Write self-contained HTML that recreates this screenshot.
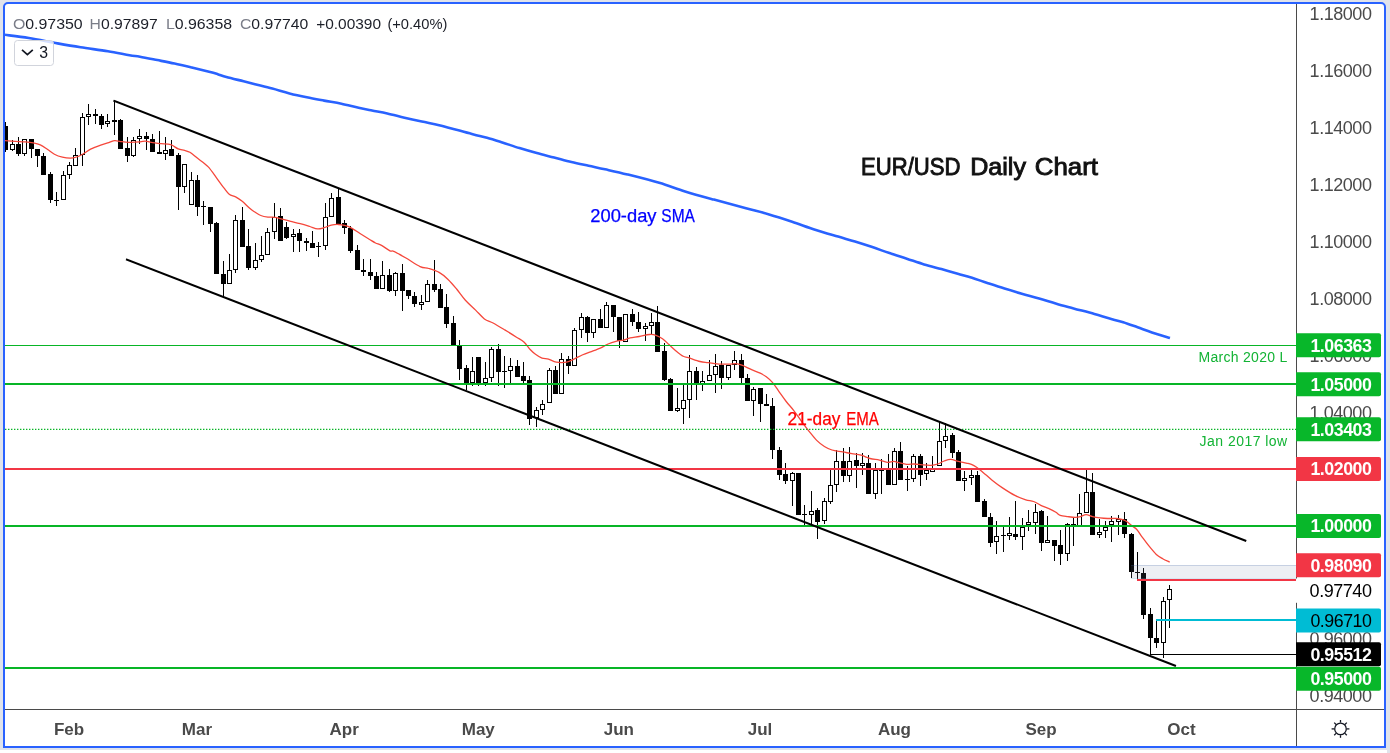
<!DOCTYPE html>
<html><head><meta charset="utf-8"><style>
html,body{margin:0;padding:0;}
body{width:1390px;height:753px;background:#e0e3eb;position:relative;overflow:hidden;font-family:"Liberation Sans",sans-serif;}
.strip{position:absolute;left:0;top:750px;width:1387px;height:3px;background:#fff;}
.frame{position:absolute;left:3px;top:2px;width:1379px;height:742px;border:2px solid #2962ff;border-radius:5px 5px 0 0;background:#fff;}
</style></head><body>
<div class="strip"></div>
<div class="frame"></div>
<svg width="1390" height="753" style="position:absolute;left:0;top:0;will-change:transform">
<defs><clipPath id="pane"><rect x="5" y="4" width="1291" height="705"/></clipPath></defs>
<g clip-path="url(#pane)">
<g fill="#000">
<rect x="5" y="122" width="1" height="30"/>
<rect x="3" y="126" width="5" height="24"/>
<rect x="12" y="140" width="1" height="11"/>
<rect x="10" y="144" width="5" height="6"/>
<rect x="11" y="145" width="3" height="4" fill="#fff"/>
<rect x="18" y="137" width="1" height="19"/>
<rect x="16" y="144" width="5" height="10"/>
<rect x="24" y="139" width="1" height="17"/>
<rect x="22" y="139" width="5" height="15"/>
<rect x="23" y="140" width="3" height="13" fill="#fff"/>
<rect x="31" y="139" width="1" height="19"/>
<rect x="29" y="139" width="5" height="10"/>
<rect x="37" y="149" width="1" height="18"/>
<rect x="35" y="149" width="5" height="7"/>
<rect x="43" y="153" width="1" height="22"/>
<rect x="41" y="156" width="5" height="19"/>
<rect x="50" y="172" width="1" height="31"/>
<rect x="48" y="174" width="5" height="26"/>
<rect x="56" y="192" width="1" height="14"/>
<rect x="54" y="200" width="5" height="1"/>
<rect x="63" y="171" width="1" height="29"/>
<rect x="61" y="175" width="5" height="25"/>
<rect x="62" y="176" width="3" height="23" fill="#fff"/>
<rect x="69" y="162" width="1" height="17"/>
<rect x="67" y="165" width="5" height="10"/>
<rect x="68" y="166" width="3" height="8" fill="#fff"/>
<rect x="75" y="148" width="1" height="18"/>
<rect x="73" y="155" width="5" height="11"/>
<rect x="74" y="156" width="3" height="9" fill="#fff"/>
<rect x="82" y="113" width="1" height="53"/>
<rect x="80" y="117" width="5" height="38"/>
<rect x="81" y="118" width="3" height="36" fill="#fff"/>
<rect x="88" y="104" width="1" height="21"/>
<rect x="86" y="114" width="5" height="3"/>
<rect x="87" y="115" width="3" height="1" fill="#fff"/>
<rect x="95" y="109" width="1" height="15"/>
<rect x="93" y="114" width="5" height="2"/>
<rect x="101" y="114" width="1" height="15"/>
<rect x="99" y="116" width="5" height="9"/>
<rect x="107" y="114" width="1" height="13"/>
<rect x="105" y="121" width="5" height="3"/>
<rect x="106" y="122" width="3" height="1" fill="#fff"/>
<rect x="114" y="100" width="1" height="35"/>
<rect x="112" y="120" width="5" height="2"/>
<rect x="120" y="119" width="1" height="30"/>
<rect x="118" y="120" width="5" height="29"/>
<rect x="127" y="137" width="1" height="25"/>
<rect x="125" y="148" width="5" height="8"/>
<rect x="133" y="137" width="1" height="20"/>
<rect x="131" y="140" width="5" height="16"/>
<rect x="132" y="141" width="3" height="14" fill="#fff"/>
<rect x="139" y="129" width="1" height="15"/>
<rect x="137" y="136" width="5" height="3"/>
<rect x="138" y="137" width="3" height="1" fill="#fff"/>
<rect x="146" y="132" width="1" height="18"/>
<rect x="144" y="136" width="5" height="3"/>
<rect x="152" y="134" width="1" height="18"/>
<rect x="150" y="139" width="5" height="13"/>
<rect x="159" y="131" width="1" height="23"/>
<rect x="157" y="152" width="5" height="2"/>
<rect x="165" y="137" width="1" height="23"/>
<rect x="163" y="150" width="5" height="4"/>
<rect x="164" y="151" width="3" height="2" fill="#fff"/>
<rect x="171" y="140" width="1" height="16"/>
<rect x="169" y="149" width="5" height="7"/>
<rect x="178" y="153" width="1" height="57"/>
<rect x="176" y="155" width="5" height="32"/>
<rect x="184" y="164" width="1" height="29"/>
<rect x="182" y="164" width="5" height="23"/>
<rect x="183" y="165" width="3" height="21" fill="#fff"/>
<rect x="191" y="172" width="1" height="33"/>
<rect x="189" y="180" width="5" height="25"/>
<rect x="190" y="181" width="3" height="23" fill="#fff"/>
<rect x="197" y="175" width="1" height="41"/>
<rect x="195" y="180" width="5" height="27"/>
<rect x="203" y="201" width="1" height="24"/>
<rect x="201" y="206" width="5" height="1"/>
<rect x="210" y="207" width="1" height="25"/>
<rect x="208" y="207" width="5" height="17"/>
<rect x="216" y="222" width="1" height="52"/>
<rect x="214" y="223" width="5" height="51"/>
<rect x="223" y="261" width="1" height="35"/>
<rect x="221" y="274" width="5" height="10"/>
<rect x="229" y="254" width="1" height="30"/>
<rect x="227" y="270" width="5" height="14"/>
<rect x="228" y="271" width="3" height="12" fill="#fff"/>
<rect x="235" y="215" width="1" height="58"/>
<rect x="233" y="220" width="5" height="50"/>
<rect x="234" y="221" width="3" height="48" fill="#fff"/>
<rect x="242" y="207" width="1" height="40"/>
<rect x="240" y="220" width="5" height="27"/>
<rect x="248" y="229" width="1" height="41"/>
<rect x="246" y="246" width="5" height="22"/>
<rect x="255" y="243" width="1" height="27"/>
<rect x="253" y="260" width="5" height="8"/>
<rect x="254" y="261" width="3" height="6" fill="#fff"/>
<rect x="261" y="236" width="1" height="26"/>
<rect x="259" y="255" width="5" height="5"/>
<rect x="260" y="256" width="3" height="3" fill="#fff"/>
<rect x="267" y="228" width="1" height="27"/>
<rect x="265" y="232" width="5" height="23"/>
<rect x="266" y="233" width="3" height="21" fill="#fff"/>
<rect x="274" y="203" width="1" height="36"/>
<rect x="272" y="217" width="5" height="15"/>
<rect x="273" y="218" width="3" height="13" fill="#fff"/>
<rect x="280" y="208" width="1" height="33"/>
<rect x="278" y="216" width="5" height="25"/>
<rect x="286" y="222" width="1" height="17"/>
<rect x="284" y="227" width="5" height="11"/>
<rect x="293" y="229" width="1" height="23"/>
<rect x="291" y="234" width="5" height="3"/>
<rect x="292" y="235" width="3" height="1" fill="#fff"/>
<rect x="299" y="229" width="1" height="23"/>
<rect x="297" y="233" width="5" height="8"/>
<rect x="306" y="238" width="1" height="13"/>
<rect x="304" y="241" width="5" height="2"/>
<rect x="312" y="231" width="1" height="17"/>
<rect x="310" y="243" width="5" height="5"/>
<rect x="318" y="242" width="1" height="15"/>
<rect x="316" y="246" width="5" height="1"/>
<rect x="325" y="203" width="1" height="47"/>
<rect x="323" y="217" width="5" height="29"/>
<rect x="324" y="218" width="3" height="27" fill="#fff"/>
<rect x="331" y="193" width="1" height="24"/>
<rect x="329" y="198" width="5" height="19"/>
<rect x="330" y="199" width="3" height="17" fill="#fff"/>
<rect x="338" y="189" width="1" height="35"/>
<rect x="336" y="197" width="5" height="27"/>
<rect x="344" y="220" width="1" height="14"/>
<rect x="342" y="223" width="5" height="5"/>
<rect x="350" y="226" width="1" height="27"/>
<rect x="348" y="228" width="5" height="23"/>
<rect x="357" y="245" width="1" height="25"/>
<rect x="355" y="250" width="5" height="20"/>
<rect x="363" y="259" width="1" height="17"/>
<rect x="361" y="270" width="5" height="2"/>
<rect x="370" y="259" width="1" height="21"/>
<rect x="368" y="272" width="5" height="4"/>
<rect x="376" y="272" width="1" height="17"/>
<rect x="374" y="276" width="5" height="13"/>
<rect x="382" y="261" width="1" height="28"/>
<rect x="380" y="275" width="5" height="14"/>
<rect x="381" y="276" width="3" height="12" fill="#fff"/>
<rect x="389" y="269" width="1" height="23"/>
<rect x="387" y="275" width="5" height="16"/>
<rect x="395" y="272" width="1" height="24"/>
<rect x="393" y="273" width="5" height="18"/>
<rect x="394" y="274" width="3" height="16" fill="#fff"/>
<rect x="402" y="264" width="1" height="47"/>
<rect x="400" y="273" width="5" height="18"/>
<rect x="408" y="290" width="1" height="9"/>
<rect x="406" y="290" width="5" height="6"/>
<rect x="414" y="292" width="1" height="15"/>
<rect x="412" y="296" width="5" height="8"/>
<rect x="421" y="295" width="1" height="15"/>
<rect x="419" y="302" width="5" height="3"/>
<rect x="420" y="303" width="3" height="1" fill="#fff"/>
<rect x="427" y="280" width="1" height="22"/>
<rect x="425" y="284" width="5" height="18"/>
<rect x="426" y="285" width="3" height="16" fill="#fff"/>
<rect x="434" y="260" width="1" height="32"/>
<rect x="432" y="284" width="5" height="6"/>
<rect x="440" y="284" width="1" height="24"/>
<rect x="438" y="289" width="5" height="19"/>
<rect x="446" y="294" width="1" height="34"/>
<rect x="444" y="307" width="5" height="17"/>
<rect x="453" y="316" width="1" height="29"/>
<rect x="451" y="323" width="5" height="22"/>
<rect x="459" y="340" width="1" height="40"/>
<rect x="457" y="345" width="5" height="24"/>
<rect x="466" y="365" width="1" height="25"/>
<rect x="464" y="368" width="5" height="15"/>
<rect x="472" y="357" width="1" height="29"/>
<rect x="470" y="371" width="5" height="12"/>
<rect x="471" y="372" width="3" height="10" fill="#fff"/>
<rect x="478" y="357" width="1" height="29"/>
<rect x="476" y="357" width="5" height="26"/>
<rect x="485" y="362" width="1" height="24"/>
<rect x="483" y="378" width="5" height="5"/>
<rect x="484" y="379" width="3" height="3" fill="#fff"/>
<rect x="491" y="347" width="1" height="35"/>
<rect x="489" y="349" width="5" height="29"/>
<rect x="490" y="350" width="3" height="27" fill="#fff"/>
<rect x="498" y="344" width="1" height="42"/>
<rect x="496" y="349" width="5" height="23"/>
<rect x="504" y="356" width="1" height="32"/>
<rect x="502" y="371" width="5" height="1"/>
<rect x="510" y="358" width="1" height="25"/>
<rect x="508" y="366" width="5" height="5"/>
<rect x="509" y="367" width="3" height="3" fill="#fff"/>
<rect x="517" y="360" width="1" height="17"/>
<rect x="515" y="366" width="5" height="11"/>
<rect x="523" y="362" width="1" height="21"/>
<rect x="521" y="376" width="5" height="5"/>
<rect x="529" y="376" width="1" height="49"/>
<rect x="527" y="380" width="5" height="39"/>
<rect x="536" y="407" width="1" height="20"/>
<rect x="534" y="410" width="5" height="8"/>
<rect x="535" y="411" width="3" height="6" fill="#fff"/>
<rect x="542" y="400" width="1" height="15"/>
<rect x="540" y="404" width="5" height="6"/>
<rect x="541" y="405" width="3" height="4" fill="#fff"/>
<rect x="549" y="368" width="1" height="35"/>
<rect x="547" y="370" width="5" height="33"/>
<rect x="548" y="371" width="3" height="31" fill="#fff"/>
<rect x="555" y="366" width="1" height="28"/>
<rect x="553" y="370" width="5" height="24"/>
<rect x="561" y="353" width="1" height="41"/>
<rect x="559" y="359" width="5" height="35"/>
<rect x="560" y="360" width="3" height="33" fill="#fff"/>
<rect x="568" y="356" width="1" height="18"/>
<rect x="566" y="359" width="5" height="7"/>
<rect x="574" y="328" width="1" height="38"/>
<rect x="572" y="330" width="5" height="36"/>
<rect x="573" y="331" width="3" height="34" fill="#fff"/>
<rect x="581" y="313" width="1" height="25"/>
<rect x="579" y="317" width="5" height="13"/>
<rect x="580" y="318" width="3" height="11" fill="#fff"/>
<rect x="587" y="316" width="1" height="26"/>
<rect x="585" y="317" width="5" height="16"/>
<rect x="593" y="319" width="1" height="19"/>
<rect x="591" y="319" width="5" height="14"/>
<rect x="592" y="320" width="3" height="12" fill="#fff"/>
<rect x="600" y="309" width="1" height="19"/>
<rect x="598" y="319" width="5" height="9"/>
<rect x="606" y="302" width="1" height="26"/>
<rect x="604" y="305" width="5" height="23"/>
<rect x="605" y="306" width="3" height="21" fill="#fff"/>
<rect x="613" y="305" width="1" height="27"/>
<rect x="611" y="305" width="5" height="12"/>
<rect x="619" y="317" width="1" height="31"/>
<rect x="617" y="317" width="5" height="24"/>
<rect x="625" y="314" width="1" height="28"/>
<rect x="623" y="314" width="5" height="28"/>
<rect x="624" y="315" width="3" height="26" fill="#fff"/>
<rect x="632" y="309" width="1" height="17"/>
<rect x="630" y="314" width="5" height="8"/>
<rect x="638" y="312" width="1" height="20"/>
<rect x="636" y="322" width="5" height="7"/>
<rect x="645" y="323" width="1" height="18"/>
<rect x="643" y="326" width="5" height="3"/>
<rect x="644" y="327" width="3" height="1" fill="#fff"/>
<rect x="651" y="313" width="1" height="21"/>
<rect x="649" y="322" width="5" height="4"/>
<rect x="650" y="323" width="3" height="2" fill="#fff"/>
<rect x="657" y="306" width="1" height="46"/>
<rect x="655" y="322" width="5" height="30"/>
<rect x="664" y="343" width="1" height="38"/>
<rect x="662" y="351" width="5" height="29"/>
<rect x="670" y="378" width="1" height="33"/>
<rect x="668" y="379" width="5" height="32"/>
<rect x="677" y="388" width="1" height="24"/>
<rect x="675" y="408" width="5" height="3"/>
<rect x="676" y="409" width="3" height="1" fill="#fff"/>
<rect x="683" y="383" width="1" height="41"/>
<rect x="681" y="400" width="5" height="9"/>
<rect x="682" y="401" width="3" height="7" fill="#fff"/>
<rect x="689" y="355" width="1" height="63"/>
<rect x="687" y="371" width="5" height="29"/>
<rect x="688" y="372" width="3" height="27" fill="#fff"/>
<rect x="696" y="367" width="1" height="33"/>
<rect x="694" y="371" width="5" height="12"/>
<rect x="702" y="371" width="1" height="20"/>
<rect x="700" y="381" width="5" height="3"/>
<rect x="701" y="382" width="3" height="1" fill="#fff"/>
<rect x="709" y="360" width="1" height="21"/>
<rect x="707" y="375" width="5" height="6"/>
<rect x="708" y="376" width="3" height="4" fill="#fff"/>
<rect x="715" y="354" width="1" height="39"/>
<rect x="713" y="366" width="5" height="9"/>
<rect x="714" y="367" width="3" height="7" fill="#fff"/>
<rect x="721" y="361" width="1" height="28"/>
<rect x="719" y="365" width="5" height="13"/>
<rect x="728" y="365" width="1" height="15"/>
<rect x="726" y="365" width="5" height="13"/>
<rect x="727" y="366" width="3" height="11" fill="#fff"/>
<rect x="734" y="351" width="1" height="19"/>
<rect x="732" y="360" width="5" height="5"/>
<rect x="733" y="361" width="3" height="3" fill="#fff"/>
<rect x="741" y="354" width="1" height="29"/>
<rect x="739" y="360" width="5" height="18"/>
<rect x="747" y="374" width="1" height="27"/>
<rect x="745" y="378" width="5" height="23"/>
<rect x="753" y="387" width="1" height="29"/>
<rect x="751" y="389" width="5" height="12"/>
<rect x="752" y="390" width="3" height="10" fill="#fff"/>
<rect x="760" y="388" width="1" height="34"/>
<rect x="758" y="388" width="5" height="16"/>
<rect x="766" y="394" width="1" height="12"/>
<rect x="764" y="404" width="5" height="2"/>
<rect x="772" y="398" width="1" height="61"/>
<rect x="770" y="406" width="5" height="44"/>
<rect x="779" y="447" width="1" height="33"/>
<rect x="777" y="450" width="5" height="25"/>
<rect x="785" y="463" width="1" height="21"/>
<rect x="783" y="474" width="5" height="7"/>
<rect x="792" y="472" width="1" height="34"/>
<rect x="790" y="473" width="5" height="8"/>
<rect x="791" y="474" width="3" height="6" fill="#fff"/>
<rect x="798" y="473" width="1" height="42"/>
<rect x="796" y="473" width="5" height="42"/>
<rect x="804" y="505" width="1" height="20"/>
<rect x="802" y="514" width="5" height="1"/>
<rect x="811" y="491" width="1" height="34"/>
<rect x="809" y="511" width="5" height="4"/>
<rect x="810" y="512" width="3" height="2" fill="#fff"/>
<rect x="817" y="508" width="1" height="31"/>
<rect x="815" y="510" width="5" height="12"/>
<rect x="824" y="498" width="1" height="26"/>
<rect x="822" y="501" width="5" height="20"/>
<rect x="823" y="502" width="3" height="18" fill="#fff"/>
<rect x="830" y="470" width="1" height="34"/>
<rect x="828" y="485" width="5" height="17"/>
<rect x="829" y="486" width="3" height="15" fill="#fff"/>
<rect x="836" y="450" width="1" height="42"/>
<rect x="834" y="461" width="5" height="24"/>
<rect x="835" y="462" width="3" height="22" fill="#fff"/>
<rect x="843" y="448" width="1" height="34"/>
<rect x="841" y="461" width="5" height="15"/>
<rect x="849" y="447" width="1" height="35"/>
<rect x="847" y="461" width="5" height="15"/>
<rect x="848" y="462" width="3" height="13" fill="#fff"/>
<rect x="856" y="453" width="1" height="35"/>
<rect x="854" y="460" width="5" height="6"/>
<rect x="862" y="453" width="1" height="22"/>
<rect x="860" y="463" width="5" height="3"/>
<rect x="861" y="464" width="3" height="1" fill="#fff"/>
<rect x="868" y="455" width="1" height="39"/>
<rect x="866" y="463" width="5" height="31"/>
<rect x="875" y="463" width="1" height="36"/>
<rect x="873" y="470" width="5" height="24"/>
<rect x="874" y="471" width="3" height="22" fill="#fff"/>
<rect x="881" y="459" width="1" height="35"/>
<rect x="879" y="470" width="5" height="1"/>
<rect x="888" y="454" width="1" height="31"/>
<rect x="886" y="470" width="5" height="15"/>
<rect x="894" y="448" width="1" height="37"/>
<rect x="892" y="451" width="5" height="34"/>
<rect x="893" y="452" width="3" height="32" fill="#fff"/>
<rect x="900" y="442" width="1" height="38"/>
<rect x="898" y="451" width="5" height="29"/>
<rect x="907" y="466" width="1" height="25"/>
<rect x="905" y="479" width="5" height="1"/>
<rect x="913" y="454" width="1" height="28"/>
<rect x="911" y="456" width="5" height="23"/>
<rect x="912" y="457" width="3" height="21" fill="#fff"/>
<rect x="920" y="454" width="1" height="32"/>
<rect x="918" y="456" width="5" height="19"/>
<rect x="926" y="463" width="1" height="17"/>
<rect x="924" y="470" width="5" height="4"/>
<rect x="925" y="471" width="3" height="2" fill="#fff"/>
<rect x="932" y="456" width="1" height="16"/>
<rect x="930" y="469" width="5" height="3"/>
<rect x="931" y="470" width="3" height="1" fill="#fff"/>
<rect x="939" y="422" width="1" height="44"/>
<rect x="937" y="441" width="5" height="25"/>
<rect x="938" y="442" width="3" height="23" fill="#fff"/>
<rect x="945" y="423" width="1" height="25"/>
<rect x="943" y="436" width="5" height="5"/>
<rect x="944" y="437" width="3" height="3" fill="#fff"/>
<rect x="952" y="433" width="1" height="25"/>
<rect x="950" y="435" width="5" height="18"/>
<rect x="958" y="450" width="1" height="31"/>
<rect x="956" y="452" width="5" height="29"/>
<rect x="964" y="471" width="1" height="20"/>
<rect x="962" y="478" width="5" height="3"/>
<rect x="963" y="479" width="3" height="1" fill="#fff"/>
<rect x="971" y="470" width="1" height="15"/>
<rect x="969" y="475" width="5" height="3"/>
<rect x="970" y="476" width="3" height="1" fill="#fff"/>
<rect x="977" y="471" width="1" height="31"/>
<rect x="975" y="475" width="5" height="27"/>
<rect x="984" y="499" width="1" height="18"/>
<rect x="982" y="501" width="5" height="16"/>
<rect x="990" y="513" width="1" height="34"/>
<rect x="988" y="517" width="5" height="26"/>
<rect x="996" y="521" width="1" height="33"/>
<rect x="994" y="536" width="5" height="6"/>
<rect x="995" y="537" width="3" height="4" fill="#fff"/>
<rect x="1003" y="527" width="1" height="25"/>
<rect x="1001" y="535" width="5" height="1"/>
<rect x="1009" y="517" width="1" height="23"/>
<rect x="1007" y="533" width="5" height="3"/>
<rect x="1008" y="534" width="3" height="1" fill="#fff"/>
<rect x="1015" y="501" width="1" height="39"/>
<rect x="1013" y="534" width="5" height="3"/>
<rect x="1022" y="518" width="1" height="32"/>
<rect x="1020" y="527" width="5" height="10"/>
<rect x="1021" y="528" width="3" height="8" fill="#fff"/>
<rect x="1028" y="510" width="1" height="21"/>
<rect x="1026" y="522" width="5" height="3"/>
<rect x="1027" y="523" width="3" height="1" fill="#fff"/>
<rect x="1035" y="504" width="1" height="30"/>
<rect x="1033" y="512" width="5" height="11"/>
<rect x="1034" y="513" width="3" height="9" fill="#fff"/>
<rect x="1041" y="510" width="1" height="41"/>
<rect x="1039" y="511" width="5" height="32"/>
<rect x="1047" y="516" width="1" height="26"/>
<rect x="1045" y="540" width="5" height="3"/>
<rect x="1046" y="541" width="3" height="1" fill="#fff"/>
<rect x="1054" y="540" width="1" height="21"/>
<rect x="1052" y="540" width="5" height="6"/>
<rect x="1060" y="530" width="1" height="35"/>
<rect x="1058" y="545" width="5" height="9"/>
<rect x="1067" y="523" width="1" height="38"/>
<rect x="1065" y="524" width="5" height="30"/>
<rect x="1066" y="525" width="3" height="28" fill="#fff"/>
<rect x="1073" y="518" width="1" height="28"/>
<rect x="1071" y="524" width="5" height="3"/>
<rect x="1072" y="525" width="3" height="1" fill="#fff"/>
<rect x="1079" y="494" width="1" height="33"/>
<rect x="1077" y="513" width="5" height="14"/>
<rect x="1078" y="514" width="3" height="12" fill="#fff"/>
<rect x="1086" y="470" width="1" height="43"/>
<rect x="1084" y="492" width="5" height="21"/>
<rect x="1085" y="493" width="3" height="19" fill="#fff"/>
<rect x="1092" y="473" width="1" height="62"/>
<rect x="1090" y="492" width="5" height="43"/>
<rect x="1099" y="519" width="1" height="19"/>
<rect x="1097" y="532" width="5" height="3"/>
<rect x="1098" y="533" width="3" height="1" fill="#fff"/>
<rect x="1105" y="521" width="1" height="17"/>
<rect x="1103" y="527" width="5" height="4"/>
<rect x="1104" y="528" width="3" height="2" fill="#fff"/>
<rect x="1111" y="516" width="1" height="26"/>
<rect x="1109" y="521" width="5" height="4"/>
<rect x="1110" y="522" width="3" height="2" fill="#fff"/>
<rect x="1118" y="515" width="1" height="20"/>
<rect x="1116" y="519" width="5" height="3"/>
<rect x="1117" y="520" width="3" height="1" fill="#fff"/>
<rect x="1124" y="512" width="1" height="26"/>
<rect x="1122" y="519" width="5" height="15"/>
<rect x="1131" y="533" width="1" height="45"/>
<rect x="1129" y="534" width="5" height="38"/>
<rect x="1137" y="552" width="1" height="27"/>
<rect x="1135" y="572" width="5" height="1"/>
<rect x="1143" y="568" width="1" height="51"/>
<rect x="1141" y="573" width="5" height="42"/>
<rect x="1150" y="608" width="1" height="46"/>
<rect x="1148" y="614" width="5" height="24"/>
<rect x="1156" y="620" width="1" height="28"/>
<rect x="1154" y="638" width="5" height="5"/>
<rect x="1163" y="597" width="1" height="61"/>
<rect x="1161" y="601" width="5" height="42"/>
<rect x="1162" y="602" width="3" height="40" fill="#fff"/>
<rect x="1169" y="585" width="1" height="43"/>
<rect x="1167" y="589" width="5" height="11"/>
<rect x="1168" y="590" width="3" height="9" fill="#fff"/>
</g>
<rect x="1131" y="565" width="165" height="14" fill="rgba(110,120,160,0.12)"/>
<rect x="1131" y="565" width="165" height="1" fill="rgba(60,100,170,0.22)"/>
<rect x="1131" y="578" width="165" height="1" fill="rgba(120,190,230,0.2)"/>
<path d="M5.00,34.80 C8.97,35.33 20.03,36.57 28.80,38.00 C37.57,39.43 48.97,41.85 57.60,43.40 C66.23,44.95 72.22,46.00 80.60,47.30 C88.98,48.60 99.75,49.88 107.90,51.20 C116.05,52.52 124.15,54.28 129.50,55.20 C134.85,56.12 135.37,55.88 140.00,56.70 C144.63,57.52 151.55,58.95 157.30,60.10 C163.05,61.25 168.75,62.35 174.50,63.60 C180.25,64.85 186.03,66.23 191.80,67.60 C197.57,68.97 204.78,70.70 209.10,71.80 C213.42,72.90 214.82,73.33 217.70,74.20 C220.58,75.07 222.08,75.82 226.40,77.00 C230.72,78.18 238.83,80.10 243.60,81.30 C248.37,82.50 250.22,82.98 255.00,84.20 C259.78,85.42 266.55,87.07 272.30,88.60 C278.05,90.13 283.75,91.95 289.50,93.40 C295.25,94.85 301.03,96.10 306.80,97.30 C312.57,98.50 318.33,99.53 324.10,100.60 C329.87,101.67 335.65,102.50 341.40,103.70 C347.15,104.90 353.50,106.67 358.60,107.80 C363.70,108.93 367.22,109.57 372.00,110.50 C376.78,111.43 381.88,112.20 387.30,113.40 C392.72,114.60 398.75,116.33 404.50,117.70 C410.25,119.07 416.03,120.35 421.80,121.60 C427.57,122.85 433.33,123.83 439.10,125.20 C444.87,126.57 450.65,128.25 456.40,129.80 C462.15,131.35 468.50,133.17 473.60,134.50 C478.70,135.83 482.22,136.47 487.00,137.80 C491.78,139.13 496.88,140.78 502.30,142.50 C507.72,144.22 513.75,146.33 519.50,148.10 C525.25,149.87 531.03,151.53 536.80,153.10 C542.57,154.67 548.33,156.02 554.10,157.50 C559.87,158.98 565.65,160.62 571.40,162.00 C577.15,163.38 583.00,164.58 588.60,165.80 C594.20,167.02 598.50,167.85 605.00,169.30 C611.50,170.75 618.57,172.25 627.60,174.50 C636.63,176.75 649.62,179.98 659.20,182.80 C668.78,185.62 675.98,188.60 685.10,191.40 C694.22,194.20 703.75,196.80 713.90,199.60 C724.05,202.40 736.80,205.73 746.00,208.20 C755.20,210.67 761.42,212.15 769.10,214.40 C776.78,216.65 784.43,219.15 792.10,221.70 C799.77,224.25 807.43,227.22 815.10,229.70 C822.77,232.18 831.45,234.63 838.10,236.60 C844.75,238.57 849.30,239.75 855.00,241.50 C860.70,243.25 866.55,245.17 872.30,247.10 C878.05,249.03 883.75,251.17 889.50,253.10 C895.25,255.03 901.03,256.82 906.80,258.70 C912.57,260.58 918.33,262.67 924.10,264.40 C929.87,266.13 935.65,267.52 941.40,269.10 C947.15,270.68 953.50,272.45 958.60,273.90 C963.70,275.35 967.22,276.28 972.00,277.80 C976.78,279.32 981.88,281.20 987.30,283.00 C992.72,284.80 998.75,286.82 1004.50,288.60 C1010.25,290.38 1016.03,292.05 1021.80,293.70 C1027.57,295.35 1033.33,296.83 1039.10,298.50 C1044.87,300.17 1050.65,302.05 1056.40,303.70 C1062.15,305.35 1067.27,306.68 1073.60,308.40 C1079.93,310.12 1088.53,312.35 1094.40,314.00 C1100.27,315.65 1104.00,316.92 1108.80,318.30 C1113.60,319.68 1118.40,320.80 1123.20,322.30 C1128.00,323.80 1132.82,325.62 1137.60,327.30 C1142.38,328.98 1146.50,330.60 1151.90,332.40 C1157.30,334.20 1166.98,337.15 1170.00,338.10" fill="none" stroke="#2962ff" stroke-width="2.6" stroke-linejoin="round"/>
<path d="M5.00,140.60 C6.68,140.72 11.73,141.08 15.10,141.30 C18.47,141.52 22.18,141.63 25.20,141.90 C28.22,142.17 30.68,142.40 33.20,142.90 C35.72,143.40 37.95,143.85 40.30,144.90 C42.65,145.95 44.95,147.65 47.30,149.20 C49.65,150.75 51.88,152.87 54.40,154.20 C56.92,155.53 59.72,156.53 62.40,157.20 C65.08,157.87 68.15,158.23 70.50,158.20 C72.85,158.17 74.48,157.67 76.50,157.00 C78.52,156.33 80.25,155.50 82.60,154.20 C84.95,152.90 87.58,150.72 90.60,149.20 C93.62,147.68 97.67,146.20 100.70,145.10 C103.73,144.00 106.45,143.35 108.80,142.60 C111.15,141.85 112.80,140.77 114.80,140.60 C116.80,140.43 118.45,141.32 120.80,141.60 C123.15,141.88 125.70,142.25 128.90,142.30 C132.10,142.35 137.27,142.08 140.00,141.90 C142.73,141.72 143.18,141.07 145.30,141.20 C147.42,141.33 150.05,142.30 152.70,142.70 C155.35,143.10 158.18,143.27 161.20,143.60 C164.22,143.93 167.97,143.82 170.80,144.70 C173.63,145.58 175.90,147.95 178.20,148.90 C180.50,149.85 182.65,149.83 184.60,150.40 C186.55,150.97 187.78,151.02 189.90,152.30 C192.02,153.58 194.28,155.72 197.30,158.10 C200.32,160.48 204.80,163.32 208.00,166.60 C211.20,169.88 213.85,174.25 216.50,177.80 C219.15,181.35 221.78,185.17 223.90,187.90 C226.02,190.63 227.25,192.70 229.20,194.20 C231.15,195.70 233.48,195.75 235.60,196.90 C237.72,198.05 239.50,199.15 241.90,201.10 C244.30,203.05 247.85,206.78 250.00,208.60 C252.15,210.42 253.00,210.85 254.80,212.00 C256.60,213.15 258.62,214.65 260.80,215.50 C262.98,216.35 265.52,216.80 267.90,217.10 C270.28,217.40 272.90,217.00 275.10,217.30 C277.30,217.60 278.50,218.23 281.10,218.90 C283.70,219.57 287.52,220.50 290.70,221.30 C293.88,222.10 297.02,222.83 300.20,223.70 C303.38,224.57 306.90,225.63 309.80,226.50 C312.70,227.37 315.22,228.70 317.60,228.90 C319.98,229.10 321.82,228.33 324.10,227.70 C326.38,227.07 328.90,225.63 331.30,225.10 C333.70,224.57 336.12,224.40 338.50,224.50 C340.88,224.60 343.42,225.10 345.60,225.70 C347.78,226.30 349.20,226.80 351.60,228.10 C354.00,229.40 357.00,231.60 360.00,233.50 C363.00,235.40 367.02,237.92 369.60,239.50 C372.18,241.08 373.52,242.02 375.50,243.00 C377.48,243.98 379.08,244.10 381.50,245.40 C383.92,246.70 387.95,249.80 390.00,250.80 C392.05,251.80 391.22,250.23 393.80,251.40 C396.38,252.57 401.12,255.27 405.50,257.80 C409.88,260.33 416.22,264.82 420.10,266.60 C423.98,268.38 425.63,267.53 428.80,268.50 C431.97,269.47 435.93,270.62 439.10,272.40 C442.27,274.18 444.88,276.43 447.80,279.20 C450.72,281.97 453.67,285.50 456.60,289.00 C459.53,292.50 462.23,296.68 465.40,300.20 C468.57,303.72 472.43,306.98 475.60,310.10 C478.77,313.22 481.48,316.75 484.40,318.90 C487.32,321.05 489.70,321.17 493.10,323.00 C496.50,324.83 500.90,327.53 504.80,329.90 C508.70,332.27 513.32,335.18 516.50,337.20 C519.68,339.22 521.58,339.90 523.90,342.00 C526.22,344.10 528.47,347.75 530.40,349.80 C532.33,351.85 533.57,352.90 535.50,354.30 C537.43,355.70 539.83,357.40 542.00,358.20 C544.17,359.00 546.12,358.45 548.50,359.10 C550.88,359.75 553.28,361.60 556.30,362.10 C559.32,362.60 563.58,362.63 566.60,362.10 C569.62,361.57 571.80,360.08 574.40,358.90 C577.00,357.72 579.18,356.30 582.20,355.00 C585.22,353.70 589.48,352.23 592.50,351.10 C595.52,349.97 597.70,349.38 600.30,348.20 C602.90,347.02 605.50,345.13 608.10,344.00 C610.70,342.87 613.32,342.05 615.90,341.40 C618.48,340.75 621.23,340.68 623.60,340.10 C625.97,339.52 627.50,338.50 630.10,337.90 C632.70,337.30 635.97,337.07 639.20,336.50 C642.43,335.93 646.70,334.70 649.50,334.50 C652.30,334.30 653.83,334.58 656.00,335.30 C658.17,336.02 660.33,337.25 662.50,338.80 C664.67,340.35 666.85,342.67 669.00,344.60 C671.15,346.53 673.03,348.45 675.40,350.40 C677.77,352.35 681.03,355.10 683.20,356.30 C685.37,357.50 685.60,356.73 688.40,357.60 C691.20,358.47 696.68,360.67 700.00,361.50 C703.32,362.33 704.88,362.17 708.30,362.60 C711.72,363.03 716.93,363.85 720.50,364.10 C724.07,364.35 727.15,364.18 729.70,364.10 C732.25,364.02 733.77,363.42 735.80,363.60 C737.83,363.78 739.35,364.23 741.90,365.20 C744.45,366.17 748.05,368.07 751.10,369.40 C754.15,370.73 757.67,371.97 760.20,373.20 C762.73,374.43 764.27,375.27 766.30,376.80 C768.33,378.33 770.37,380.07 772.40,382.40 C774.43,384.73 776.20,387.62 778.50,390.80 C780.80,393.98 783.65,398.20 786.20,401.50 C788.75,404.80 791.25,407.30 793.80,410.60 C796.35,413.90 798.95,417.85 801.50,421.30 C804.05,424.75 806.57,428.12 809.10,431.30 C811.63,434.48 814.15,437.87 816.70,440.40 C819.25,442.93 821.85,444.90 824.40,446.50 C826.95,448.10 828.95,449.10 832.00,450.00 C835.05,450.90 839.40,451.28 842.70,451.90 C846.00,452.52 848.75,453.15 851.80,453.70 C854.85,454.25 857.97,454.40 861.00,455.20 C864.03,456.00 866.93,457.68 870.00,458.50 C873.07,459.32 876.53,459.47 879.40,460.10 C882.27,460.73 884.82,462.08 887.20,462.30 C889.58,462.52 891.75,461.33 893.70,461.40 C895.65,461.47 896.75,462.20 898.90,462.70 C901.05,463.20 904.02,464.18 906.60,464.40 C909.18,464.62 911.80,463.92 914.40,464.00 C917.00,464.08 919.40,464.68 922.20,464.90 C925.00,465.12 928.62,465.45 931.20,465.30 C933.78,465.15 935.53,464.72 937.70,464.00 C939.87,463.28 942.03,461.77 944.20,461.00 C946.37,460.23 948.33,459.33 950.70,459.40 C953.07,459.47 955.82,460.78 958.40,461.40 C960.98,462.02 964.03,462.60 966.20,463.10 C968.37,463.60 969.67,463.72 971.40,464.40 C973.13,465.08 974.65,465.87 976.60,467.20 C978.55,468.53 980.52,470.23 983.10,472.40 C985.68,474.57 988.87,477.62 992.10,480.20 C995.33,482.78 998.62,485.32 1002.50,487.90 C1006.38,490.48 1011.52,493.72 1015.40,495.70 C1019.28,497.68 1022.77,498.83 1025.80,499.80 C1028.83,500.77 1031.10,500.58 1033.60,501.50 C1036.10,502.42 1038.17,504.08 1040.80,505.30 C1043.43,506.52 1046.88,507.63 1049.40,508.80 C1051.92,509.97 1054.10,511.22 1055.90,512.30 C1057.70,513.38 1058.22,514.58 1060.20,515.30 C1062.18,516.02 1065.28,516.25 1067.80,516.60 C1070.32,516.95 1073.15,517.40 1075.30,517.40 C1077.45,517.40 1078.90,517.07 1080.70,516.60 C1082.50,516.13 1084.12,514.60 1086.10,514.60 C1088.08,514.60 1090.27,516.05 1092.60,516.60 C1094.93,517.15 1097.58,517.58 1100.10,517.90 C1102.62,518.22 1105.00,518.40 1107.70,518.50 C1110.40,518.60 1113.78,518.32 1116.30,518.50 C1118.82,518.68 1121.00,519.05 1122.80,519.60 C1124.60,520.15 1125.48,520.68 1127.10,521.80 C1128.72,522.92 1130.88,525.02 1132.50,526.30 C1134.12,527.58 1135.18,527.70 1136.80,529.50 C1138.42,531.30 1140.22,534.40 1142.20,537.10 C1144.18,539.80 1146.35,542.82 1148.70,545.70 C1151.05,548.58 1153.97,552.23 1156.30,554.40 C1158.63,556.57 1160.47,557.42 1162.70,558.70 C1164.93,559.98 1168.53,561.53 1169.70,562.10" fill="none" stroke="#f5473b" stroke-width="1.3" stroke-linejoin="round"/>
<rect x="5" y="345" width="1291" height="1" fill="#08b526"/>
<rect x="5" y="383" width="1291" height="2" fill="#08b526"/>
<line x1="5" y1="429.4" x2="1296" y2="429.4" stroke="#08b526" stroke-width="1.4" stroke-dasharray="1.4 1.6"/>
<rect x="5" y="468" width="1291" height="2" fill="#f23645"/>
<rect x="5" y="525" width="1291" height="2" fill="#08b526"/>
<rect x="5" y="667" width="1291" height="2" fill="#08b526"/>
<rect x="1137" y="579" width="159" height="2" fill="#f23645"/>
<rect x="1156" y="619" width="140" height="2" fill="#00bcd4"/>
<rect x="1150" y="654" width="146" height="1" fill="#000"/>
<line x1="114.4" y1="101" x2="1245.3" y2="540.7" stroke="#000" stroke-width="2.05" stroke-linecap="square"/>
<line x1="127" y1="259.6" x2="1175" y2="665.6" stroke="#000" stroke-width="2.05" stroke-linecap="square"/>
<text x="590.3" y="222.1" font-family="Liberation Sans, sans-serif" font-size="17.8" fill="#0000ff" stroke="#0000ff" stroke-width="0.25" textLength="66.2" lengthAdjust="spacingAndGlyphs">200-day</text>
<text x="661.3" y="222.1" font-family="Liberation Sans, sans-serif" font-size="17.8" fill="#0000ff" stroke="#0000ff" stroke-width="0.25" textLength="33.6" lengthAdjust="spacingAndGlyphs">SMA</text>
<text x="787.6" y="424.9" font-family="Liberation Sans, sans-serif" font-size="17.5" fill="#ff0000" stroke="#ff0000" stroke-width="0.25" textLength="52.8" lengthAdjust="spacingAndGlyphs">21-day</text>
<text x="846.2" y="424.9" font-family="Liberation Sans, sans-serif" font-size="17.5" fill="#ff0000" stroke="#ff0000" stroke-width="0.25" textLength="32.6" lengthAdjust="spacingAndGlyphs">EMA</text>
<text x="861.0" y="174.9" font-family="Liberation Sans, sans-serif" font-size="23.5" fill="#111" stroke="#111" stroke-width="0.9" textLength="99.5" lengthAdjust="spacingAndGlyphs">EUR/USD</text>
<text x="970.2" y="174.9" font-family="Liberation Sans, sans-serif" font-size="23.5" fill="#111" stroke="#111" stroke-width="0.9" textLength="55.8" lengthAdjust="spacingAndGlyphs">Daily</text>
<text x="1034.8" y="174.9" font-family="Liberation Sans, sans-serif" font-size="23.5" fill="#111" stroke="#111" stroke-width="0.9" textLength="63.2" lengthAdjust="spacingAndGlyphs">Chart</text>
<text x="1198.6" y="361.9" font-family="Liberation Sans, sans-serif" font-size="14" fill="#12b334" textLength="88.6" lengthAdjust="spacing">March 2020 L</text>
<text x="1199.6" y="445.5" font-family="Liberation Sans, sans-serif" font-size="14" fill="#12b334" textLength="87.6" lengthAdjust="spacing">Jan 2017 low</text>
</g>
<rect x="1296" y="4" width="1" height="742" fill="#4a4a4a"/>
<rect x="5" y="709" width="1379" height="1" fill="#4a4a4a"/>
<text x="1371.5" y="20.3" text-anchor="end" font-family="Liberation Sans, sans-serif" font-size="18" letter-spacing="-0.45" fill="#4a4a4a">1.18000</text>
<text x="1371.5" y="76.8" text-anchor="end" font-family="Liberation Sans, sans-serif" font-size="18" letter-spacing="-0.45" fill="#4a4a4a">1.16000</text>
<text x="1371.5" y="133.9" text-anchor="end" font-family="Liberation Sans, sans-serif" font-size="18" letter-spacing="-0.45" fill="#4a4a4a">1.14000</text>
<text x="1371.5" y="191.3" text-anchor="end" font-family="Liberation Sans, sans-serif" font-size="18" letter-spacing="-0.45" fill="#4a4a4a">1.12000</text>
<text x="1371.5" y="248.1" text-anchor="end" font-family="Liberation Sans, sans-serif" font-size="18" letter-spacing="-0.45" fill="#4a4a4a">1.10000</text>
<text x="1371.5" y="304.9" text-anchor="end" font-family="Liberation Sans, sans-serif" font-size="18" letter-spacing="-0.45" fill="#4a4a4a">1.08000</text>
<text x="1371.5" y="361.7" text-anchor="end" font-family="Liberation Sans, sans-serif" font-size="18" letter-spacing="-0.45" fill="#4a4a4a">1.06000</text>
<text x="1371.5" y="418.5" text-anchor="end" font-family="Liberation Sans, sans-serif" font-size="18" letter-spacing="-0.45" fill="#4a4a4a">1.04000</text>
<text x="1371.5" y="645.3" text-anchor="end" font-family="Liberation Sans, sans-serif" font-size="18" letter-spacing="-0.45" fill="#4a4a4a">0.96000</text>
<text x="1371.5" y="702.1" text-anchor="end" font-family="Liberation Sans, sans-serif" font-size="18" letter-spacing="-0.45" fill="#4a4a4a">0.94000</text>
<rect x="1296" y="578.5" width="85" height="24.3" fill="#fff"/>
<text x="1371.5" y="597.1" text-anchor="end" font-family="Liberation Sans, sans-serif" font-size="18" letter-spacing="-0.45" fill="#000">0.97740</text>
<path d="M1296,333.2 h83 a2,2 0 0 1 2,2 v20 a2,2 0 0 1 -2,2 h-83 z" fill="#08b72a"/>
<text x="1371.5" y="351.5" text-anchor="end" font-family="Liberation Sans, sans-serif" font-size="17.8" letter-spacing="-0.45" font-weight="bold" fill="#fff">1.06363</text>
<path d="M1296,372.2 h83 a2,2 0 0 1 2,2 v20 a2,2 0 0 1 -2,2 h-83 z" fill="#08b72a"/>
<text x="1371.5" y="390.5" text-anchor="end" font-family="Liberation Sans, sans-serif" font-size="17.8" letter-spacing="-0.45" font-weight="bold" fill="#fff">1.05000</text>
<path d="M1296,417.3 h83 a2,2 0 0 1 2,2 v20 a2,2 0 0 1 -2,2 h-83 z" fill="#08b72a"/>
<text x="1371.5" y="435.6" text-anchor="end" font-family="Liberation Sans, sans-serif" font-size="17.8" letter-spacing="-0.45" font-weight="bold" fill="#fff">1.03403</text>
<path d="M1296,457.0 h83 a2,2 0 0 1 2,2 v20 a2,2 0 0 1 -2,2 h-83 z" fill="#f23645"/>
<text x="1371.5" y="475.3" text-anchor="end" font-family="Liberation Sans, sans-serif" font-size="17.8" letter-spacing="-0.45" font-weight="bold" fill="#fff">1.02000</text>
<path d="M1296,514.0 h83 a2,2 0 0 1 2,2 v20 a2,2 0 0 1 -2,2 h-83 z" fill="#08b72a"/>
<text x="1371.5" y="532.3" text-anchor="end" font-family="Liberation Sans, sans-serif" font-size="17.8" letter-spacing="-0.45" font-weight="bold" fill="#fff">1.00000</text>
<path d="M1296,553.2 h83 a2,2 0 0 1 2,2 v20 a2,2 0 0 1 -2,2 h-83 z" fill="#f23645"/>
<text x="1371.5" y="571.5" text-anchor="end" font-family="Liberation Sans, sans-serif" font-size="17.8" letter-spacing="-0.45" font-weight="bold" fill="#fff">0.98090</text>
<path d="M1296,608.4 h83 a2,2 0 0 1 2,2 v20 a2,2 0 0 1 -2,2 h-83 z" fill="#00bcd4"/>
<text x="1371.5" y="626.7" text-anchor="end" font-family="Liberation Sans, sans-serif" font-size="17.8" letter-spacing="-0.45"  fill="#000">0.96710</text>
<path d="M1296,642.3 h83 a2,2 0 0 1 2,2 v20 a2,2 0 0 1 -2,2 h-83 z" fill="#000"/>
<text x="1371.5" y="660.6" text-anchor="end" font-family="Liberation Sans, sans-serif" font-size="17.8" letter-spacing="-0.45" font-weight="bold" fill="#fff">0.95512</text>
<path d="M1296,666.8 h83 a2,2 0 0 1 2,2 v20 a2,2 0 0 1 -2,2 h-83 z" fill="#08b72a"/>
<text x="1371.5" y="685.1" text-anchor="end" font-family="Liberation Sans, sans-serif" font-size="17.8" letter-spacing="-0.45" font-weight="bold" fill="#fff">0.95000</text>
<text x="69" y="734.9" text-anchor="middle" font-family="Liberation Sans, sans-serif" font-size="17" font-weight="bold" fill="#4a4a4a">Feb</text>
<text x="196.9" y="734.9" text-anchor="middle" font-family="Liberation Sans, sans-serif" font-size="17" font-weight="bold" fill="#4a4a4a">Mar</text>
<text x="344.2" y="734.9" text-anchor="middle" font-family="Liberation Sans, sans-serif" font-size="17" font-weight="bold" fill="#4a4a4a">Apr</text>
<text x="478.3" y="734.9" text-anchor="middle" font-family="Liberation Sans, sans-serif" font-size="17" font-weight="bold" fill="#4a4a4a">May</text>
<text x="618.8" y="734.9" text-anchor="middle" font-family="Liberation Sans, sans-serif" font-size="17" font-weight="bold" fill="#4a4a4a">Jun</text>
<text x="760" y="734.9" text-anchor="middle" font-family="Liberation Sans, sans-serif" font-size="17" font-weight="bold" fill="#4a4a4a">Jul</text>
<text x="894.4" y="734.9" text-anchor="middle" font-family="Liberation Sans, sans-serif" font-size="17" font-weight="bold" fill="#4a4a4a">Aug</text>
<text x="1041" y="734.9" text-anchor="middle" font-family="Liberation Sans, sans-serif" font-size="17" font-weight="bold" fill="#4a4a4a">Sep</text>
<text x="1181.4" y="734.9" text-anchor="middle" font-family="Liberation Sans, sans-serif" font-size="17" font-weight="bold" fill="#4a4a4a">Oct</text>
<circle cx="1340.5" cy="728.9" r="5.8" fill="none" stroke="#131722" stroke-width="1.3"/>
<line x1="1340.50" y1="722.60" x2="1340.50" y2="720.00" stroke="#131722" stroke-width="1.3"/>
<line x1="1344.95" y1="724.45" x2="1346.79" y2="722.61" stroke="#131722" stroke-width="1.3"/>
<line x1="1346.80" y1="728.90" x2="1349.40" y2="728.90" stroke="#131722" stroke-width="1.3"/>
<line x1="1344.95" y1="733.35" x2="1346.79" y2="735.19" stroke="#131722" stroke-width="1.3"/>
<line x1="1340.50" y1="735.20" x2="1340.50" y2="737.80" stroke="#131722" stroke-width="1.3"/>
<line x1="1336.05" y1="733.35" x2="1334.21" y2="735.19" stroke="#131722" stroke-width="1.3"/>
<line x1="1334.20" y1="728.90" x2="1331.60" y2="728.90" stroke="#131722" stroke-width="1.3"/>
<line x1="1336.05" y1="724.45" x2="1334.21" y2="722.61" stroke="#131722" stroke-width="1.3"/>
<text x="12.9" y="28.9" font-family="Liberation Sans, sans-serif" font-size="15.2" fill="#1c1f28" textLength="69.8" lengthAdjust="spacingAndGlyphs"><tspan fill="#7a7d88">O</tspan>0.97350</text>
<text x="89.6" y="28.9" font-family="Liberation Sans, sans-serif" font-size="15.2" fill="#1c1f28" textLength="68.2" lengthAdjust="spacingAndGlyphs"><tspan fill="#7a7d88">H</tspan>0.97897</text>
<text x="165.9" y="28.9" font-family="Liberation Sans, sans-serif" font-size="15.2" fill="#1c1f28" textLength="66.2" lengthAdjust="spacingAndGlyphs"><tspan fill="#7a7d88">L</tspan>0.96358</text>
<text x="240" y="28.9" font-family="Liberation Sans, sans-serif" font-size="15.2" fill="#1c1f28" textLength="68.2" lengthAdjust="spacingAndGlyphs"><tspan fill="#7a7d88">C</tspan>0.97740</text>
<text x="316.2" y="28.9" font-family="Liberation Sans, sans-serif" font-size="15.2" fill="#1c1f28" textLength="64.8" lengthAdjust="spacingAndGlyphs">+0.00390</text>
<text x="387.4" y="28.9" font-family="Liberation Sans, sans-serif" font-size="15.2" fill="#1c1f28" textLength="60" lengthAdjust="spacingAndGlyphs">(+0.40%)</text>
<rect x="14.5" y="40.5" width="39" height="25" rx="3" fill="rgba(255,255,255,0.8)" stroke="#d1d4dc" stroke-width="1"/>
<polyline points="22,49.9 27.4,54.7 32.8,49.9" fill="none" stroke="#131722" stroke-width="1.7"/>
<text x="39.3" y="57.9" font-family="Liberation Sans, sans-serif" font-size="15.8" fill="#131722">3</text>
</svg>
</body></html>
